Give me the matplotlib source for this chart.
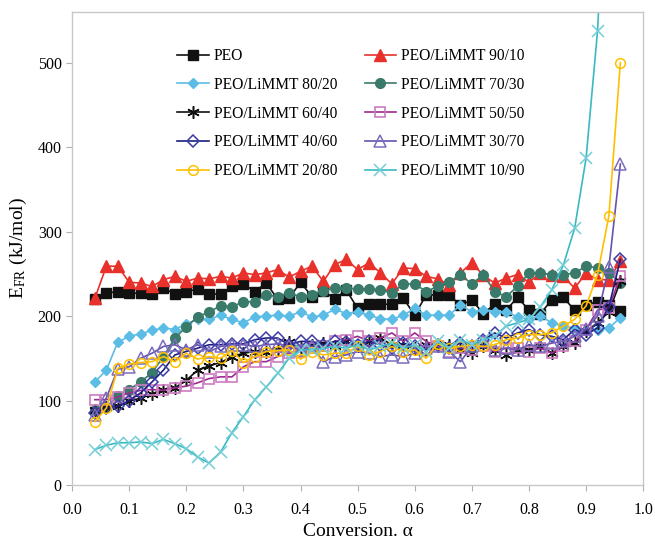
import numpy as np
import matplotlib
matplotlib.use("Agg")
from matplotlib import pyplot as plt

plt.rcParams['font.family'] = ['Liberation Serif', 'DejaVu Serif']
plt.rcParams['mathtext.fontset'] = 'stix'

alpha = [0.04, 0.06, 0.08, 0.10, 0.12, 0.14, 0.16, 0.18, 0.20, 0.22, 0.24, 0.26,
         0.28, 0.30, 0.32, 0.34, 0.36, 0.38, 0.40, 0.42, 0.44, 0.46, 0.48, 0.50,
         0.52, 0.54, 0.56, 0.58, 0.60, 0.62, 0.64, 0.66, 0.68, 0.70, 0.72, 0.74,
         0.76, 0.78, 0.80, 0.82, 0.84, 0.86, 0.88, 0.90, 0.92, 0.94, 0.96]

peo = [220, 227, 229, 227, 227, 226, 233, 226, 229, 232, 226, 226,
       235, 238, 229, 239, 220, 221, 240, 223, 230, 220, 231, 209,
       214, 214, 214, 221, 201, 225, 225, 225, 213, 219, 203, 214,
       207, 222, 207, 203, 219, 222, 207, 213, 217, 213, 206]
r90_10 = [221, 259, 259, 240, 239, 235, 243, 247, 241, 245, 244, 247,
          245, 251, 249, 251, 255, 246, 253, 259, 241, 261, 267, 255,
          263, 251, 238, 257, 256, 247, 244, 237, 251, 263, 248, 239,
          245, 249, 240, 251, 249, 247, 233, 251, 243, 243, 265]
r80_20 = [122, 136, 169, 176, 179, 183, 186, 184, 191, 196, 196, 201,
          196, 192, 199, 200, 201, 200, 205, 199, 201, 208, 203, 205,
          201, 197, 196, 201, 209, 201, 201, 201, 213, 205, 207, 205,
          205, 199, 196, 200, 192, 188, 186, 184, 184, 186, 198]
r70_30 = [89, 92, 105, 113, 122, 133, 152, 174, 187, 199, 205, 212,
          211, 217, 217, 225, 223, 227, 223, 225, 230, 233, 233, 232,
          232, 231, 227, 238, 238, 229, 235, 240, 249, 238, 249, 229,
          223, 235, 251, 251, 249, 249, 251, 259, 257, 251, 239]
r60_40 = [89, 92, 94, 99, 103, 108, 113, 115, 124, 136, 141, 145,
          152, 156, 158, 158, 160, 169, 162, 166, 168, 165, 170, 164,
          170, 174, 166, 166, 162, 166, 164, 166, 160, 156, 164, 160,
          154, 160, 160, 164, 156, 164, 168, 182, 192, 205, 241]
r50_50 = [101, 101, 104, 109, 112, 113, 112, 115, 117, 121, 126, 128,
          128, 140, 146, 146, 152, 156, 158, 162, 164, 170, 172, 176,
          170, 174, 180, 170, 180, 170, 164, 158, 162, 160, 164, 158,
          162, 162, 158, 162, 156, 164, 170, 184, 207, 210, 247]
r40_60 = [85, 91, 93, 100, 109, 122, 136, 154, 158, 162, 166, 166,
          167, 167, 172, 174, 174, 166, 170, 170, 166, 170, 169, 166,
          170, 166, 162, 168, 164, 160, 166, 162, 168, 164, 172, 180,
          174, 180, 184, 178, 176, 172, 184, 178, 186, 211, 267]
r30_70 = [83, 103, 137, 140, 150, 156, 164, 166, 160, 166, 158, 164,
          166, 166, 164, 166, 167, 164, 160, 164, 146, 152, 154, 158,
          156, 152, 154, 152, 156, 162, 164, 158, 146, 164, 170, 160,
          162, 160, 166, 164, 168, 170, 176, 185, 200, 258, 380]
r20_80 = [75, 91, 138, 143, 145, 146, 152, 146, 156, 149, 152, 150,
          159, 145, 152, 158, 159, 160, 149, 157, 154, 156, 156, 164,
          154, 158, 164, 158, 160, 150, 167, 162, 164, 166, 164, 166,
          172, 174, 178, 178, 180, 188, 196, 212, 249, 319, 500]
r10_90 = [42, 47, 50, 50, 51, 49, 54, 49, 43, 33, 26, 39,
          62, 81, 101, 116, 132, 150, 160, 160, 162, 164, 162, 166,
          160, 164, 168, 162, 166, 158, 170, 162, 172, 166, 172, 176,
          188, 192, 196, 211, 231, 260, 304, 387, 537, 800]

fig = plt.figure(figsize=(6.55, 5.41), dpi=100)
ax = fig.add_axes([0.110, 0.1035, 0.872, 0.8745])

lw = 1.2
h = {}
h['peo'], = ax.plot(alpha, peo, '-', color='#111111', marker='s', ms=6.5, lw=lw, label='PEO')
h['90'], = ax.plot(alpha, r90_10, '-', color='#e8312a', marker='^', ms=8, lw=lw, label='PEO/LiMMT 90/10')
h['80'], = ax.plot(alpha, r80_20, '-', color='#5bbde6', marker='D', ms=5.5, lw=lw, label='PEO/LiMMT 80/20')
h['70'], = ax.plot(alpha, r70_30, '-', color='#3a7a6b', marker='o', ms=7, lw=lw, label='PEO/LiMMT 70/30')
h['60'], = ax.plot(alpha, r60_40, '-', color='#111111', marker=(6, 2, 0), ms=9, mew=1.1, lw=lw,
                   label='PEO/LiMMT 60/40')
h['50'], = ax.plot(alpha, r50_50, '-', color='#9c2a8f', marker='s', ms=7, mfc='none', mec='#cc7cc0',
                   mew=1.2, lw=lw, label='PEO/LiMMT 50/50')
h['40'], = ax.plot(alpha, r40_60, '-', color='#1d1d80', marker='D', ms=6.5, mfc='none', mec='#3c3ca8',
                   mew=1.1, lw=lw, label='PEO/LiMMT 40/60')
h['30'], = ax.plot(alpha, r30_70, '-', color='#6553ad', marker='^', ms=8, mfc='none', mec='#7b6cbc',
                   mew=1.1, lw=lw, label='PEO/LiMMT 30/70')
h['20'], = ax.plot(alpha, r20_80, '-', color='#ffc000', marker='o', ms=7, mfc='none', mew=1.1, lw=lw,
                   label='PEO/LiMMT 20/80')
h['10'], = ax.plot(alpha[:len(r10_90)], r10_90, '-', color='#3ab9c5', marker='x', ms=8, mew=1.1, lw=lw,
                   mec='#72cdd6', label='PEO/LiMMT 10/90')

ax.set_xlim(0, 1.0)
ax.set_ylim(0, 560)
ax.set_xticks(np.arange(0, 1.01, 0.1))
ax.set_xticklabels(['0.0', '0.1', '0.2', '0.3', '0.4', '0.5', '0.6', '0.7', '0.8', '0.9', '1.0'])
ax.set_yticks([0, 100, 200, 300, 400, 500])
ax.tick_params(axis='both', labelsize=11.5, color='#b0b0b0', length=4, width=0.8, direction='out')
ax.tick_params(axis='x', pad=8)
for s in ax.spines.values():
    s.set_color('#c8c8c8')
    s.set_linewidth(1.0)

ax.set_xlabel('Conversion. α', fontsize=14, labelpad=4)
ax.set_ylabel(r'E$_{\mathregular{FR}}$ (kJ/mol)', fontsize=14, labelpad=6)

# legend fills column by column, so order handles to read row-wise
order = ['peo', '80', '60', '40', '20', '90', '70', '50', '30', '10']
ax.legend([h[k] for k in order], [h[k].get_label() for k in order],
          ncol=2, loc='upper left', bbox_to_anchor=(0.16, 0.953), frameon=False,
          fontsize=11.2, handlelength=2.0, labelspacing=0.82, columnspacing=1.75,
          handletextpad=0.35)

fig.savefig('out.png', dpi=100)
